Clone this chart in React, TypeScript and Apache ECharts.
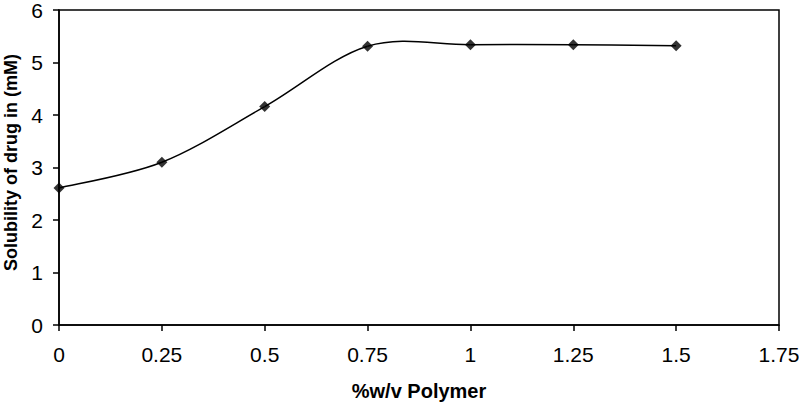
import React, { useEffect, useRef } from "react";
import * as echarts from "echarts";

const polymer = [0, 0.25, 0.5, 0.75, 1, 1.25, 1.5];
const solubility = [2.61, 3.1, 4.16, 5.31, 5.34, 5.34, 5.32];

export default function App() {
  const ref = useRef<HTMLDivElement>(null);
  useEffect(() => {
    if (!ref.current) return;
    const chart = echarts.init(ref.current, undefined, { renderer: "svg" });
    const font = "Liberation Sans, Arial, sans-serif";
    const axisText = { color: "#000", fontFamily: font, fontSize: 21 };
    const pts = polymer.map((x, i) => [x, solubility[i]]);
    chart.setOption({
      animation: false,
      backgroundColor: "#fff",
      grid: {
        left: 59, top: 10, right: 20, bottom: 79,
        show: true, borderColor: "#000", borderWidth: 1.5, backgroundColor: "transparent",
        outerBoundsMode: "none",
        containLabel: false,
      },
      xAxis: {
        type: "value",
        min: 0,
        max: 1.75,
        interval: 0.25,
        name: "%w/v Polymer",
        nameLocation: "middle",
        nameGap: 56,
        nameTextStyle: { color: "#000", fontFamily: font, fontSize: 20, fontWeight: "bold" },
        axisLine: { show: true, lineStyle: { color: "#000", width: 1.5 } },
        axisTick: { show: true, inside: false, length: 6, lineStyle: { color: "#000", width: 1.5 } },
        axisLabel: { ...axisText, margin: 19 },
        splitLine: { show: false },
      },
      yAxis: {
        type: "value",
        min: 0,
        max: 6,
        interval: 1,
        name: "Solubility of drug in (mM)",
        nameLocation: "middle",
        nameGap: 39,
        nameTextStyle: { color: "#000", fontFamily: font, fontSize: 18, lineHeight: 18, fontWeight: "bold", padding: [0, 0, 0, 10] },
        axisLine: { show: true, lineStyle: { color: "#000", width: 1.5 } },
        axisTick: { show: true, inside: false, length: 6, lineStyle: { color: "#000", width: 1.5 } },
        axisLabel: { ...axisText, margin: 16 },
        splitLine: { show: false },
      },
      series: [
        {
          type: "custom",
          data: pts,
          silent: true,
          renderItem: (params: any, api: any) => {
            const i = params.dataIndex;
            const n = pts.length;
            if (i >= n - 1) return null;
            const c = (k: number) => api.coord(pts[Math.max(0, Math.min(n - 1, k))]);
            const p0 = c(i - 1), p1 = c(i), p2 = c(i + 1), p3 = c(i + 2);
            const t = 1 / 6;
            return {
              type: "bezierCurve",
              shape: {
                x1: p1[0], y1: p1[1],
                cpx1: p1[0] + (p2[0] - p0[0]) * t, cpy1: p1[1] + (p2[1] - p0[1]) * t,
                cpx2: p2[0] - (p3[0] - p1[0]) * t, cpy2: p2[1] - (p3[1] - p1[1]) * t,
                x2: p2[0], y2: p2[1],
              },
              style: { stroke: "#000", lineWidth: 1.5, fill: "none" },
            };
          },
        },
        {
          type: "scatter",
          data: pts,
          symbol: "diamond",
          symbolSize: 11,
          itemStyle: { color: "#000" },
        },
      ],
    });
    return () => chart.dispose();
  }, []);
  return <div ref={ref} style={{ width: 799, height: 404, position: "absolute", left: 0, top: 0 }} />;
}
